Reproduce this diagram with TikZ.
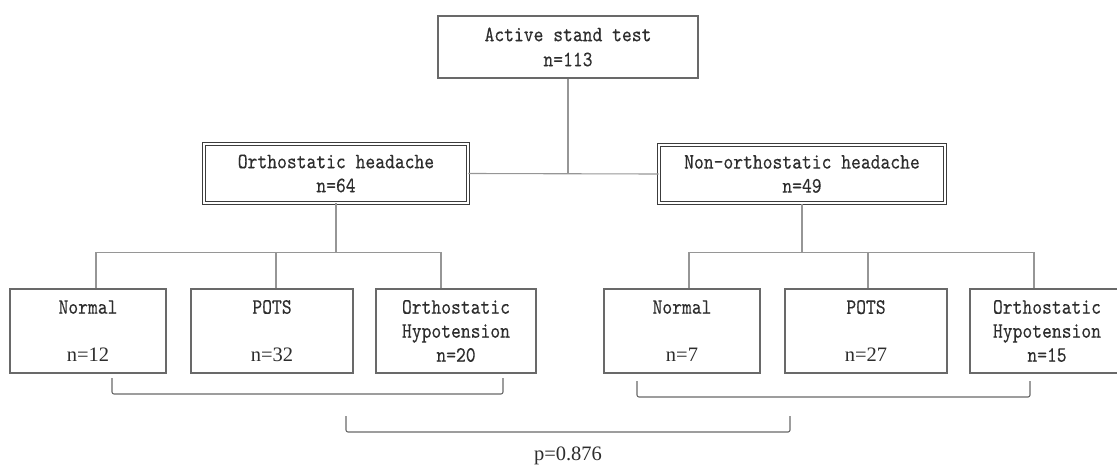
\documentclass[tikz,border=0pt]{standalone}
\usepackage{fontspec}
\newfontfamily\serifn{Liberation Serif}
\newfontfamily\boxfont{lmmono10-regular.otf}[FakeStretch=0.85,FakeBold=0.25]
\definecolor{boxline}{RGB}{105,105,105}
\definecolor{dblline}{RGB}{60,60,60}
\definecolor{connline}{RGB}{150,150,150}
\definecolor{txt}{RGB}{45,45,45}
\newcommand\nser[1]{{\serifn\fontsize{20.5}{24}\selectfont #1}}
\begin{document}
\begin{tikzpicture}[x=1pt,y=-1pt,
  boxbase/.style={draw=boxline,line width=1.2pt,inner sep=0pt,align=center,text=txt,
     font=\boxfont\fontsize{22}{24}\selectfont},
  plainbox/.style={boxbase,minimum width=#1},
  dblbox/.style={boxbase,draw=dblline,line width=1.1pt,double=white,double distance=2pt,minimum width=#1,minimum height=58.6pt},
  conn/.style={draw=connline,line width=1.1pt},
  brack/.style={draw=boxline,line width=1.1pt,rounded corners=2pt},
  ptext/.style={text=txt,font=\serifn\fontsize{20.5}{24}\selectfont}
]
\useasboundingbox (0,0) rectangle (1117,466);

% top
\node[plainbox=260pt,minimum height=62pt] (top) at (568,47) {Active stand test\\[1pt]n=113};

% second level
\node[dblbox=263.6pt] (ortho) at (336,173.5) {Orthostatic headache\\n=64};
\node[dblbox=285.6pt] (nonortho) at (802,174) {Non-orthostatic headache\\n=49};

% bottom level
\node[plainbox=156pt,minimum height=84pt] (b1) at (88,331) {Normal\\ \\\nser{n=12}};
\node[plainbox=162pt,minimum height=84pt] (b2) at (272,331) {POTS\\ \\\nser{n=32}};
\node[plainbox=160pt,minimum height=84pt] (b3) at (456,331) {Orthostatic\\Hypotension\\n=20};
\node[plainbox=156pt,minimum height=84pt] (b4) at (682,331) {Normal\\ \\\nser{n=7}};
\node[plainbox=162pt,minimum height=84pt] (b5) at (866,331) {POTS\\ \\\nser{n=27}};
\node[plainbox=154pt,minimum height=84pt] (b6) at (1047,331) {Orthostatic\\Hypotension\\n=15};

% connectors top -> second
\draw[conn] (top.south) -- (top.south |- ortho.east);
\draw[conn] (ortho.east) -- (nonortho.west);

% left branch
\coordinate (lj) at ([yshift=-49pt]ortho.south);
\coordinate (d1) at ([xshift=8pt]b1.north);
\coordinate (d2) at ([xshift=4pt]b2.north);
\coordinate (d3) at ([xshift=-15pt]b3.north);
\draw[conn] (ortho.south) -- (lj);
\draw[conn] (d1) -- (d1 |- lj) -- (d3 |- lj) -- (d3);
\draw[conn] (d2) -- (d2 |- lj);

% right branch
\coordinate (rj) at ([yshift=-49pt]nonortho.south);
\coordinate (d4) at ([xshift=7pt]b4.north);
\coordinate (d5) at ([xshift=2pt]b5.north);
\coordinate (d6) at ([xshift=-13pt]b6.north);
\draw[conn] (nonortho.south) -- (rj);
\draw[conn] (d4) -- (d4 |- rj) -- (d6 |- rj) -- (d6);
\draw[conn] (d5) -- (d5 |- rj);

% brackets
\draw[brack] (112,378) -- (112,394) -- (503,394) -- (503,378);
\draw[brack] (637,381) -- (637,397) -- (1030,397) -- (1030,381);
\draw[brack] (346,416) -- (346,432) -- (790,432) -- (790,416);
\node[ptext] (p) at (568,456) {p=0.876};
\end{tikzpicture}
\end{document}
